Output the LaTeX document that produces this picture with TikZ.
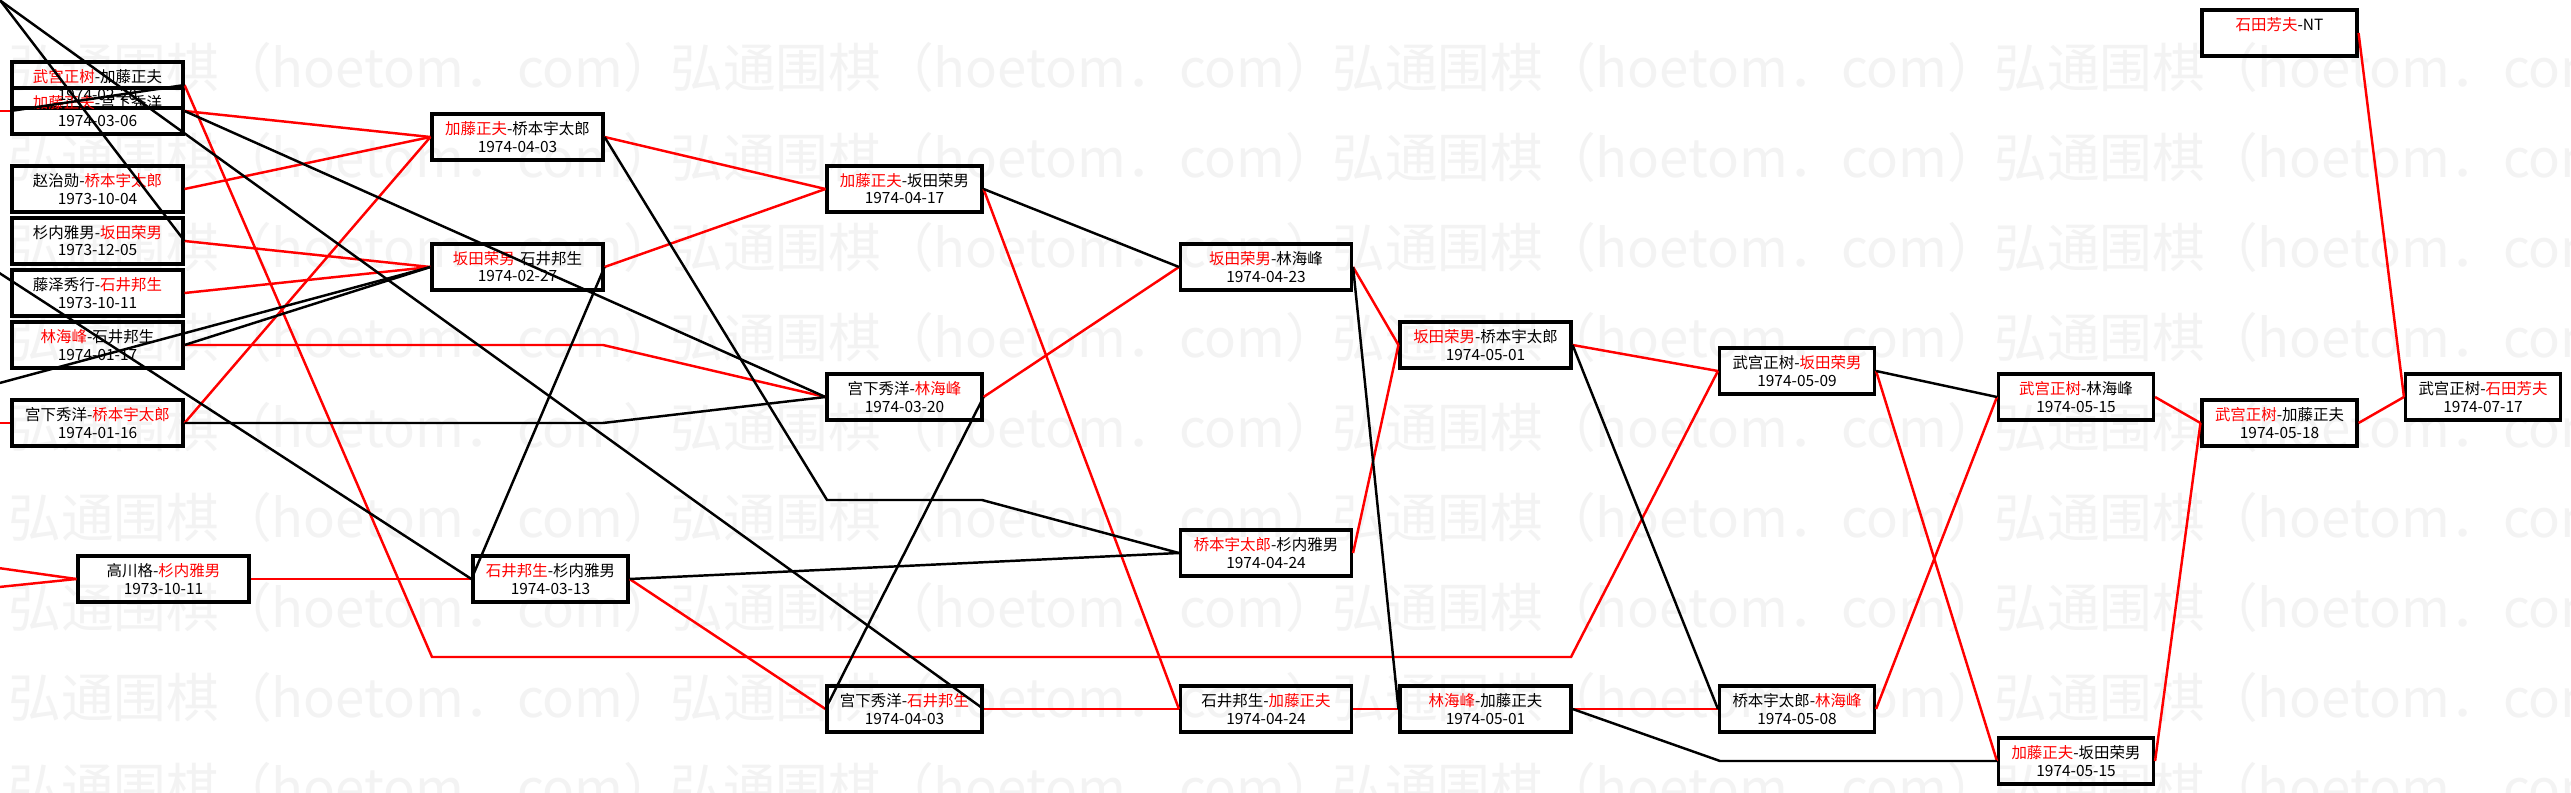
\documentclass[tikz,border=0pt]{standalone}
\usepackage{fontspec}
\setmainfont{Noto Sans CJK SC}
\definecolor{GoWin}{HTML}{FF0000}
\definecolor{GoLose}{HTML}{000000}
\definecolor{GoMark}{HTML}{F3F3F3}
\newcommand{\win}[1]{\textcolor{GoWin}{#1}}

\begin{document}
\begin{tikzpicture}[x=0.02cm,y=-0.02cm,
    game/.style={draw=GoLose,line width=1.8pt,minimum width=3.42cm,minimum height=0.92cm,
      inner sep=0pt,align=center,font=\fontsize{8.8}{9.8}\selectfont},
    gamenarrow/.style={game,minimum width=3.1cm},
    winline/.style={GoWin,line width=1.4pt},
    loseline/.style={GoLose,line width=1.4pt},
    wmark/.style={text=GoMark,anchor=west,inner sep=0pt,font=\fontsize{30}{30}\selectfont}]
  \useasboundingbox (0,0) rectangle (2571,793);
  \clip (0,0) rectangle (2571,793);
  \fill[white] (0,0) rectangle (2571,793);

  % watermark
  \foreach \row in {0,...,8}{
    \foreach \col in {0,...,3}{
      \node[wmark] (wm-\row-\col) at ({8+662*\col},{67+90*\row}) {弘通围棋（hoetom．com）};
    }
  }

  % games
  \node[game] (A) at (97.5,85) {\win{武宫正树}-加藤正夫\\1974-02-20};
  \node[game] (B) at (97.5,111) {\win{加藤正夫}-宫下秀洋\\1974-03-06};
  \node[game] (C) at (97.5,189) {赵治勋-\win{桥本宇太郎}\\1973-10-04};
  \node[game] (D) at (97.5,241) {杉内雅男-\win{坂田荣男}\\1973-12-05};
  \node[game] (E) at (97.5,293) {藤泽秀行-\win{石井邦生}\\1973-10-11};
  \node[game] (F) at (97.5,345) {\win{林海峰}-石井邦生\\1974-01-17};
  \node[game] (G) at (97.5,423) {宫下秀洋-\win{桥本宇太郎}\\1974-01-16};
  \node[game] (H) at (163.5,579) {高川格-\win{杉内雅男}\\1973-10-11};

  \node[game] (I) at (517.5,137) {\win{加藤正夫}-桥本宇太郎\\1974-04-03};
  \node[game] (J) at (517.5,267) {\win{坂田荣男}-石井邦生\\1974-02-27};
  \node[gamenarrow] (K) at (550.5,579) {\win{石井邦生}-杉内雅男\\1974-03-13};

  \node[gamenarrow] (L) at (904.5,189) {\win{加藤正夫}-坂田荣男\\1974-04-17};
  \node[gamenarrow] (M) at (904.5,397) {宫下秀洋-\win{林海峰}\\1974-03-20};
  \node[gamenarrow] (N) at (904.5,709) {宫下秀洋-\win{石井邦生}\\1974-04-03};

  \node[game] (O) at (1266,267) {\win{坂田荣男}-林海峰\\1974-04-23};
  \node[game] (P) at (1266,553) {\win{桥本宇太郎}-杉内雅男\\1974-04-24};
  \node[game] (Q) at (1266,709) {石井邦生-\win{加藤正夫}\\1974-04-24};

  \node[game] (R) at (1485.5,345) {\win{坂田荣男}-桥本宇太郎\\1974-05-01};
  \node[game] (S) at (1485.5,709) {\win{林海峰}-加藤正夫\\1974-05-01};

  \node[gamenarrow] (T) at (1797,371) {武宫正树-\win{坂田荣男}\\1974-05-09};
  \node[gamenarrow] (U) at (1797,709) {桥本宇太郎-\win{林海峰}\\1974-05-08};

  \node[gamenarrow] (V) at (2076,397) {\win{武宫正树}-林海峰\\1974-05-15};
  \node[gamenarrow] (W) at (2076,761) {\win{加藤正夫}-坂田荣男\\1974-05-15};

  \node[gamenarrow] (X) at (2279.5,33) {\win{石田芳夫}-NT\\\phantom{1974-01-01}};
  \node[gamenarrow] (Y) at (2279.5,423) {\win{武宫正树}-加藤正夫\\1974-05-18};

  \node[gamenarrow] (Z) at (2483,397) {武宫正树-\win{石田芳夫}\\1974-07-17};

  % bends and loose ends
  \coordinate (ra1) at (432,657);
  \coordinate (ra2) at (1571,657);
  \coordinate (rf) at (603,345);
  \coordinate (kg) at (603,423);
  \coordinate (ki1) at (827,500);
  \coordinate (ki2) at (982,500);
  \coordinate (ks) at (1720,761);
  \coordinate (offB) at (-20,111);
  \coordinate (offG) at (-20,423);
  \coordinate (offH1) at (-30,564);
  \coordinate (offH2) at (-30,590);
  \coordinate (offD) at (-20,-26);
  \coordinate (offN) at (-20,-14);
  \coordinate (offK) at (-30,254);
  \coordinate (offJ) at (-30,391);

  % winner goes on: red
  \draw[winline] (A.east) -- (ra1) -- (ra2) -- (T.west);
  \draw[winline] (B.east) -- (I.west);
  \draw[winline] (C.east) -- (I.west);
  \draw[winline] (D.east) -- (J.west);
  \draw[winline] (E.east) -- (J.west);
  \draw[winline] (F.east) -- (rf) -- (M.west);
  \draw[winline] (G.east) -- (I.west);
  \draw[winline] (H.east) -- (K.west);
  \draw[winline] (I.east) -- (L.west);
  \draw[winline] (J.east) -- (L.west);
  \draw[winline] (K.east) -- (N.west);
  \draw[winline] (L.east) -- (Q.west);
  \draw[winline] (M.east) -- (O.west);
  \draw[winline] (N.east) -- (Q.west);
  \draw[winline] (O.east) -- (R.west);
  \draw[winline] (P.east) -- (R.west);
  \draw[winline] (Q.east) -- (S.west);
  \draw[winline] (R.east) -- (T.west);
  \draw[winline] (S.east) -- (U.west);
  \draw[winline] (T.east) -- (W.west);
  \draw[winline] (U.east) -- (V.west);
  \draw[winline] (V.east) -- (Y.west);
  \draw[winline] (W.east) -- (Y.west);
  \draw[winline] (Y.east) -- (Z.west);
  \draw[winline] (X.east) -- (Z.west);
  \draw[winline] (offB) -- (B.west);
  \draw[winline] (offG) -- (G.west);
  \draw[winline] (offH1) -- (H.west);
  \draw[winline] (offH2) -- (H.west);

  % loser goes on: black
  \draw[loseline] (A.east) -- (B.west);
  \draw[loseline] (B.east) -- (M.west);
  \draw[loseline] (D.east) -- (offD);
  \draw[loseline] (F.east) -- (J.west);
  \draw[loseline] (G.east) -- (kg) -- (M.west);
  \draw[loseline] (I.east) -- (ki1) -- (ki2) -- (P.west);
  \draw[loseline] (J.east) -- (K.west);
  \draw[loseline] (K.east) -- (P.west);
  \draw[loseline] (L.east) -- (O.west);
  \draw[loseline] (M.east) -- (N.west);
  \draw[loseline] (N.east) -- (offN);
  \draw[loseline] (O.east) -- (S.west);
  \draw[loseline] (R.east) -- (U.west);
  \draw[loseline] (S.east) -- (ks) -- (W.west);
  \draw[loseline] (T.east) -- (V.west);
  \draw[loseline] (offK) -- (K.west);
  \draw[loseline] (offJ) -- (J.west);
\end{tikzpicture}
\end{document}
